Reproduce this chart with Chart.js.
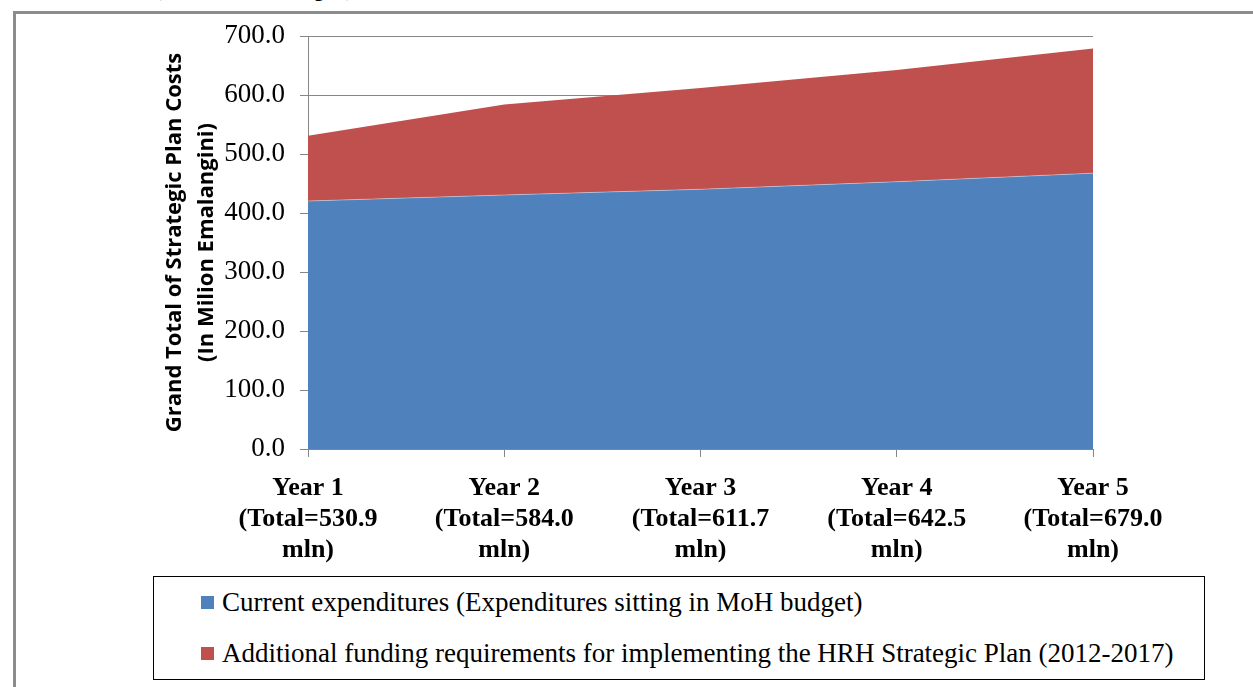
<!DOCTYPE html>
<html>
<head>
<meta charset="utf-8">
<script src="https://cdn.jsdelivr.net/npm/chart.js@4.4.0/dist/chart.umd.min.js"></script>
<style>
  html, body { margin:0; padding:0; background:#fff; width:1253px; height:687px; overflow:hidden; }
  body { position:relative; }
  #frame { position:absolute; left:13px; top:11px; width:1400px; height:900px;
           border-left:3px solid #8c8c8c; border-top:3px solid #8c8c8c; }
  #toptitle { position:absolute; left:155px; top:-21px; font:bold 20px "Liberation Serif", serif;
              line-height:20px; white-space:nowrap; color:#000; }
  #chart { position:absolute; left:0; top:0; }
  #legend { position:absolute; left:153px; top:576px; width:1050px; height:102px;
            border:1px solid #000; background:#fff; }
  .item { position:absolute; left:47px; height:30px; white-space:nowrap; }
  .mk { position:absolute; left:0; top:9px; width:13px; height:13px; }
  .tx { position:absolute; left:21px; top:0; font:27px "Liberation Serif", serif; line-height:30px; color:#000; }
</style>
</head>
<body>
<div id="frame"></div>
<div id="toptitle">(In Milion Emalangini)</div>
<canvas id="chart" width="1253" height="687"></canvas>
<div id="legend"></div>
<script>
// ---- data ----
const categories = ['Year 1', 'Year 2', 'Year 3', 'Year 4', 'Year 5'];
const totalLabels = ['530.9', '584.0', '611.7', '642.5', '679.0'];
const currentExpenditures = [420.3, 430.5, 440.2, 453.0, 467.5];
const additionalFunding = [110.6, 153.5, 171.5, 189.5, 211.5];
const yTicks = [0, 100, 200, 300, 400, 500, 600, 700];
const seriesNames = [
  'Current expenditures (Expenditures sitting in MoH budget)',
  'Additional funding requirements for implementing the HRH Strategic Plan (2012-2017)'
];
const seriesColors = ['#4f81bd', '#c0504d'];
const yTitle = ['Grand Total of Strategic Plan Costs', '(In Milion Emalangini)'];

const xLabels = categories.map((c, i) => [c, '(Total=' + totalLabels[i], 'mln)']);
const gridGray = '#868686';

const chart = new Chart(document.getElementById('chart').getContext('2d'), {
  type: 'line',
  data: {
    labels: xLabels,
    datasets: [
      { label: seriesNames[0], data: currentExpenditures, backgroundColor: seriesColors[0],
        borderColor: 'rgba(255,255,255,0.35)', borderWidth: 1, pointRadius: 0, fill: 'origin', tension: 0 },
      { label: seriesNames[1], data: additionalFunding, backgroundColor: seriesColors[1],
        borderColor: 'rgba(0,0,0,0)', borderWidth: 1, pointRadius: 0, fill: '-1', tension: 0 }
    ]
  },
  options: {
    responsive: false,
    animation: false,
    devicePixelRatio: 1,
    layout: { padding: { left: 120, top: 36, right: 160, bottom: 118 } },
    plugins: { legend: { display: false }, tooltip: { enabled: false } },
    scales: {
      x: {
        offset: false,
        grid: { drawOnChartArea: false, color: gridGray, tickLength: 8 },
        border: { color: gridGray },
        ticks: { color: '#000', autoSkip: false, maxRotation: 0, minRotation: 0, padding: 16,
                 font: { family: '"Liberation Serif", serif', size: 26, weight: 'bold', lineHeight: 1.19 } },
        afterFit: s => { s.height = 120; }
      },
      y: {
        stacked: true,
        min: 0, max: 700,
        afterBuildTicks: s => { s.ticks = yTicks.map(v => ({ value: v })); },
        ticks: { color: '#000', padding: 15, callback: v => Number(v).toFixed(1),
                 font: { family: '"Liberation Serif", serif', size: 27 } },
        grid: { color: gridGray, tickLength: 8 },
        border: { color: gridGray },
        title: { display: true, text: yTitle, color: '#000',
                 font: { family: '"Open Sans", sans-serif', size: 22, weight: 'bold', lineHeight: 1.45 },
                 padding: { top: 39, bottom: 0 } },
        afterFit: s => { s.width = 188; }
      }
    }
  }
});

// HTML legend built from the chart's datasets
const legend = document.getElementById('legend');
chart.data.datasets.forEach((ds, i) => {
  const item = document.createElement('div');
  item.className = 'item';
  item.style.top = (10 + i * 51) + 'px';
  const mk = document.createElement('div');
  mk.className = 'mk';
  mk.style.background = ds.backgroundColor;
  const tx = document.createElement('div');
  tx.className = 'tx';
  tx.textContent = ds.label;
  item.appendChild(mk);
  item.appendChild(tx);
  legend.appendChild(item);
});
</script>
</body>
</html>
